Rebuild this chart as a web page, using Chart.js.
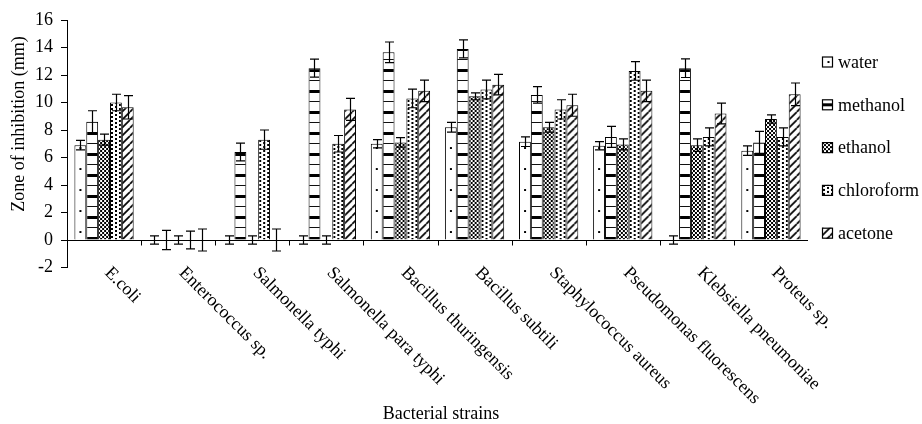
<!DOCTYPE html>
<html>
<head>
<meta charset="utf-8">
<script src="https://cdn.jsdelivr.net/npm/chart.js@4.4.0/dist/chart.umd.min.js"></script>
<style>
  html, body { margin: 0; padding: 0; background: #fff; }
</style>
</head>
<body>
<canvas id="chart" width="922" height="424"></canvas>
<script>
/* Zone of inhibition per bacterial strain, five solvent extracts, with error bars. */
const categories = [
  'E.coli', 'Enterococcus sp.', 'Salmonella typhi', 'Salmonella para typhi',
  'Bacillus thuringensis', 'Bacillus subtili', 'Staphylococcus aureus',
  'Pseudomonas fluorescens', 'Klebsiella pneumoniae', 'Proteus sp.'
];
const seriesNames = ['water', 'methanol', 'ethanol', 'chloroform', 'acetone'];

const water         = [6.9, 0,   0,    0,    7.0,  8.2,  7.15, 6.85, 0,    6.5];
const waterErr      = [0.35, 0.3, 0.3, 0.3,  0.3,  0.35, 0.35, 0.3,  0.3,  0.35];
const methanol      = [8.6, 0,   6.4,  12.5, 13.65, 13.9, 10.55, 7.5, 12.5, 7.1];
const methanolErr   = [0.8, 0.7, 0.65, 0.65, 0.75, 0.65, 0.6,  0.77, 0.68, 0.8];
const ethanol       = [7.3, 0,   0,    0,    7.1,  10.45, 8.2, 6.95, 6.9,  8.8];
const ethanolErr    = [0.4, 0.3, 0.3,  0.3,  0.35, 0.25, 0.35, 0.4,  0.45, 0.3];
const chloroform    = [10.0, 0,  7.3,  7.0,  10.3, 10.95, 9.5, 12.3, 7.5,  7.5];
const chloroformErr = [0.6, 0.65, 0.7, 0.6,  0.68, 0.68, 0.7,  0.68, 0.65, 0.65];
const acetone       = [9.65, 0,  0,    9.5,  10.85, 11.3, 9.8, 10.85, 9.2, 10.6];
const acetoneErr    = [0.85, 0.8, 0.8, 0.8,  0.78, 0.75, 0.8,  0.78, 0.75, 0.82];

const yMin = -2, yMax = 16, yStep = 2;
const yTitle = 'Zone of inhibition (mm)';
const xTitle = 'Bacterial strains';

const values = [water, methanol, ethanol, chloroform, acetone];
const errors = [waterErr, methanolErr, ethanolErr, chloroformErr, acetoneErr];

const FONT = "'Liberation Serif', 'Times New Roman', serif";
const CAT_PCT = 0.8;

const canvas = document.getElementById('chart');
const ctx = canvas.getContext('2d');

// black & white fill tiles, Excel-style hatching
function tile(w, h, paint) {
  const c = document.createElement('canvas');
  c.width = w; c.height = h;
  const g = c.getContext('2d');
  g.fillStyle = '#fff';
  g.fillRect(0, 0, w, h);
  g.fillStyle = '#000';
  g.strokeStyle = '#000';
  paint(g);
  return c;
}
const TILES = [
  tile(12, 21, g => g.fillRect(5, 12, 2, 2)),
  tile(12, 21, g => { g.fillRect(0, 18, 12, 3); g.fillRect(0, 8, 12, 1); }),
  tile(4, 4, g => { g.fillRect(0, 0, 2, 2); g.fillRect(2, 2, 2, 2); }),
  tile(8, 4, g => { g.fillRect(1, 0, 2, 2); g.fillRect(5, 2, 2, 2); }),
  tile(8, 8, g => {
    g.lineWidth = 1.7;
    g.beginPath();
    [-8, 0, 8].forEach(o => { g.moveTo(o, 8); g.lineTo(o + 8, 0); });
    g.stroke();
  }),
];

function pattern(i, dx, dy) {
  const p = ctx.createPattern(TILES[i], 'repeat');
  p.setTransform(new DOMMatrix([1, 0, 0, 1, dx, dy]));
  return p;
}

function barFill(ds) {
  return (c) => {
    const xs = c.chart.scales.x, ys = c.chart.scales.y;
    if (!xs || !ys || c.dataIndex === undefined) return pattern(ds, 0, 0);
    const cw = xs.width / categories.length;
    const groupLeft = xs.getPixelForValue(c.dataIndex) - cw * CAT_PCT / 2;
    const barLeft = groupLeft + ds * cw * CAT_PCT / seriesNames.length;
    return pattern(ds, barLeft, ys.getPixelForValue(0));
  };
}

const errorBars = {
  id: 'errorBars',
  afterDatasetsDraw(chart) {
    const y = chart.scales.y;
    const c = chart.ctx;
    c.save();
    c.strokeStyle = '#000';
    c.lineWidth = 1.2;
    chart.data.datasets.forEach((ds, d) => {
      chart.getDatasetMeta(d).data.forEach((bar, i) => {
        const v = values[d][i], e = errors[d][i];
        const x = Math.round(bar.x) + 0.5;
        const top = y.getPixelForValue(v + e);
        const bot = y.getPixelForValue(v - e);
        c.beginPath();
        c.moveTo(x, top); c.lineTo(x, bot);
        c.moveTo(x - 4.5, top); c.lineTo(x + 4.5, top);
        c.moveTo(x - 4.5, bot); c.lineTo(x + 4.5, bot);
        c.stroke();
      });
    });
    c.restore();
  }
};

const decorations = {
  id: 'decorations',
  afterDraw(chart) {
    const { chartArea: area } = chart;
    const xs = chart.scales.x, ys = chart.scales.y;
    const c = chart.ctx;
    const y0 = Math.round(ys.getPixelForValue(0)) + 0.5;
    c.save();

    // tick marks between categories on the zero line
    c.strokeStyle = '#000';
    c.lineWidth = 1;
    c.beginPath();
    for (let i = 1; i < categories.length; i++) {
      const x = Math.round((xs.getPixelForValue(i - 1) + xs.getPixelForValue(i)) / 2) + 0.5;
      c.moveTo(x, y0); c.lineTo(x, y0 + 5);
    }
    c.stroke();

    // slanted category labels
    c.fillStyle = '#000';
    c.font = '18px ' + FONT;
    c.textAlign = 'left';
    c.textBaseline = 'alphabetic';
    categories.forEach((name, i) => {
      c.save();
      c.translate(xs.getPixelForValue(i), area.bottom + 6);
      c.rotate(Math.PI / 4);
      c.fillText(name, 0, 0);
      c.restore();
    });

    // axis titles
    c.textAlign = 'center';
    c.textBaseline = 'middle';
    c.fillText(xTitle, 441, 414);
    c.save();
    c.translate(19, 124);
    c.rotate(-Math.PI / 2);
    c.fillText(yTitle, 0, 0);
    c.restore();

    // legend
    c.textAlign = 'left';
    seriesNames.forEach((name, i) => {
      const bx = area.right + 14;
      const cy = area.top + 42 + i * 42.8;
      const by = cy - 5.5;
      let p;
      if (i === 0) p = pattern(0, bx + 0.5, cy - 13);
      else if (i === 1) p = pattern(1, bx, cy - 19.5);
      else p = pattern(i, bx, by);
      c.fillStyle = p;
      c.fillRect(bx, by, 11, 11);
      c.strokeStyle = '#000';
      c.lineWidth = 1.2;
      c.strokeRect(bx + 0.5, by + 0.5, 10, 10);
      c.fillStyle = '#000';
      c.fillText(name, bx + 16, cy + 1);
    });
    c.restore();
  }
};

new Chart(ctx, {
  type: 'bar',
  data: {
    labels: categories,
    datasets: seriesNames.map((name, d) => ({
      label: name,
      data: values[d],
      backgroundColor: barFill(d),
      borderColor: '#000',
      borderWidth: 1,
      categoryPercentage: CAT_PCT,
      barPercentage: 1.0,
    })),
  },
  options: {
    responsive: false,
    devicePixelRatio: 1,
    animation: false,
    layout: { padding: { top: 20, right: 114, left: 0, bottom: 0 } },
    plugins: { legend: { display: false }, tooltip: { enabled: false } },
    scales: {
      x: {
        grid: { display: false, drawTicks: false },
        border: { display: false },
        ticks: { display: false },
        afterFit: (s) => { s.height = 156.5; },
      },
      y: {
        min: yMin,
        max: yMax,
        grid: {
          color: (c) => (c.tick && c.tick.value === 0 ? '#000' : 'rgba(0,0,0,0)'),
          tickColor: '#000',
          tickLength: 6,
          lineWidth: 1,
        },
        border: { display: true, color: '#000', width: 1 },
        ticks: {
          stepSize: yStep,
          color: '#000',
          padding: 8,
          font: { family: FONT, size: 18 },
        },
        afterFit: (s) => { s.width = 67; },
      },
    },
  },
  plugins: [errorBars, decorations],
});
</script>
</body>
</html>
